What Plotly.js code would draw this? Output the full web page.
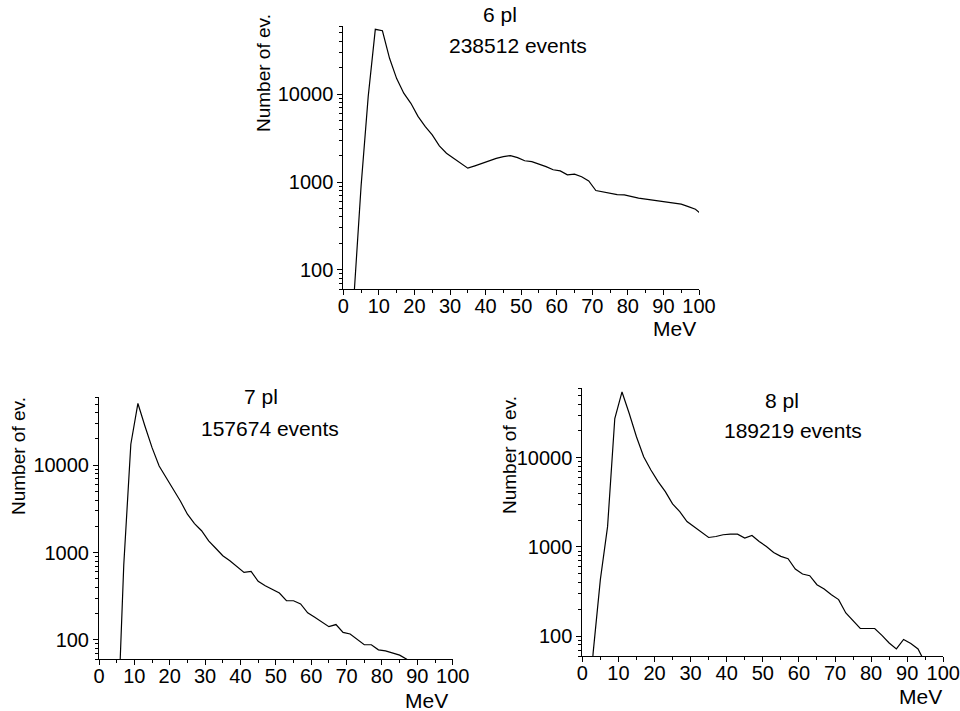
<!DOCTYPE html>
<html>
<head>
<meta charset="utf-8">
<script src="https://cdn.plot.ly/plotly-3.0.1.min.js"></script>
<style>html,body{margin:0;padding:0;background:#fff}#chart{width:960px;height:711px}</style>
</head>
<body>
<div id="chart"></div>
<script>
// ---- data ----
var energy6 = [3,5,7,9,11,13,15,17,19,21,23,25,27,29,31,33,35,37,39,41,43,45,47,49,51,53,55,57,59,61,63,65,67,69,71,73,75,77,79,81,83,85,87,89,91,93,95,97,99,101];
var counts6 = [50,900,9400,55000,53000,25700,15100,10300,7900,5600,4300,3450,2580,2130,1870,1640,1440,1530,1640,1750,1860,1950,2000,1900,1750,1710,1610,1500,1380,1340,1210,1230,1150,1030,800,772,746,720,714,683,655,638,621,605,584,568,560,525,490,420];

var energy7 = [5,7,9,11,13,15,17,19,21,23,25,27,29,31,33,35,37,39,41,43,45,47,49,51,53,55,57,59,61,63,65,67,69,71,73,75,77,79,81,83,85,87,89];
var counts7 = [5,720,17400,51000,28000,15900,9800,7200,5400,3900,2750,2150,1780,1360,1120,920,806,688,594,610,469,418,375,344,281,281,258,204,182,159,142,150,122,117,101,88,88,77,75,71,67,60,50];

var energy8 = [1,3,5,7,9,11,13,15,17,19,21,23,25,27,29,31,33,35,37,39,41,43,45,47,49,51,53,55,57,59,61,63,65,67,69,71,73,75,77,79,81,83,85,87,89,91,93,95];
var counts8 = [5,65,430,1690,27500,54600,31300,17200,10260,7290,5400,4170,3040,2490,1930,1670,1450,1277,1310,1370,1390,1390,1260,1345,1150,1013,869,784,738,566,498,476,378,338,292,257,182,151,122,122,122,102,84,72,92,83,72,50];

var panelNames = ["6 pl", "7 pl", "8 pl"];
var eventTexts = ["238512 events", "157674 events", "189219 events"];
var yTitle = "Number of ev.";
var xTitle = "MeV";
var yTickVals = [100, 1000, 10000];
var yTickText = ["100", "1000", "10000"];

// ---- layout helpers ----
var W = 960, H = 711;
function px(x){ return x / W; }
function py(y){ return 1 - y / H; }
var FAMILY = "Liberation Sans, Arial, sans-serif";
var TICKFONT = {family: FAMILY, size: 20, color: "#000"};
var TEXTFONT = {family: FAMILY, size: 21, color: "#000"};
var VFONT = {family: FAMILY, size: 19, color: "#000"};

function xaxisDef(x0, x1, anchor){
  return {
    domain: [px(x0), px(x1)], anchor: anchor, range: [0, 100],
    dtick: 10, tick0: 0, ticks: "outside", ticklen: 5, tickwidth: 1, tickcolor: "#000",
    ticklabelstandoff: -6,
    minor: {dtick: 5, ticks: "outside", ticklen: 3, tickwidth: 1, tickcolor: "#000", showgrid: false},
    showline: true, linecolor: "#000", linewidth: 1, showgrid: false, zeroline: false,
    tickfont: TICKFONT, fixedrange: true
  };
}
function yaxisDef(y0, y1, anchor){
  return {
    domain: [py(y1), py(y0)], anchor: anchor, type: "log",
    range: [Math.log10(60), Math.log10(60000)],
    tickmode: "array", tickvals: yTickVals, ticktext: yTickText,
    ticks: "outside", ticklen: 5, tickwidth: 1, tickcolor: "#000",
    minor: {dtick: "D1", ticks: "outside", ticklen: 3, tickwidth: 1, tickcolor: "#000", showgrid: false},
    showline: true, linecolor: "#000", linewidth: 1, showgrid: false, zeroline: false,
    tickfont: TICKFONT, fixedrange: true
  };
}

var lineStyle = {color: "#000", width: 1.2};
var traces = [
  {x: energy6, y: counts6, xaxis: "x", yaxis: "y", mode: "lines", line: lineStyle, hoverinfo: "x+y"},
  {x: energy7, y: counts7, xaxis: "x2", yaxis: "y2", mode: "lines", line: lineStyle, hoverinfo: "x+y"},
  {x: energy8, y: counts8, xaxis: "x3", yaxis: "y3", mode: "lines", line: lineStyle, hoverinfo: "x+y"}
];

function ann(text, x, y, font, opts){
  var a = {text: text, xref: "paper", yref: "paper", x: px(x), y: py(y),
           xanchor: "center", yanchor: "middle", showarrow: false, font: font};
  if (opts) for (var k in opts) a[k] = opts[k];
  return a;
}

var annotations = [
  ann(panelNames[0], 500, 15, TEXTFONT), ann(eventTexts[0], 518, 45, TEXTFONT),
  ann(yTitle, 263, 73, VFONT, {textangle: -90}), ann(xTitle, 698, 328, TEXTFONT, {xanchor: "right"}),
  ann(panelNames[1], 261, 396, TEXTFONT), ann(eventTexts[1], 270, 429, TEXTFONT),
  ann(yTitle, 18, 456, VFONT, {textangle: -90}), ann(xTitle, 450, 700, TEXTFONT, {xanchor: "right"}),
  ann(panelNames[2], 782, 400, TEXTFONT), ann(eventTexts[2], 793, 430, TEXTFONT),
  ann(yTitle, 509, 455, VFONT, {textangle: -90}), ann(xTitle, 944, 696, TEXTFONT, {xanchor: "right"})
];

var layout = {
  width: W, height: H, margin: {l: 0, r: 0, t: 0, b: 0},
  paper_bgcolor: "#fff", plot_bgcolor: "#fff", showlegend: false,
  font: TICKFONT,
  xaxis: xaxisDef(343.3, 699, "y"),   yaxis: yaxisDef(26, 289.3, "x"),
  xaxis2: xaxisDef(99, 452.7, "y2"),  yaxis2: yaxisDef(397.3, 659.3, "x2"),
  xaxis3: xaxisDef(582.3, 943.3, "y3"), yaxis3: yaxisDef(388.3, 656, "x3"),
  annotations: annotations
};

Plotly.newPlot("chart", traces, layout, {displayModeBar: false, staticPlot: true});
</script>
</body>
</html>
